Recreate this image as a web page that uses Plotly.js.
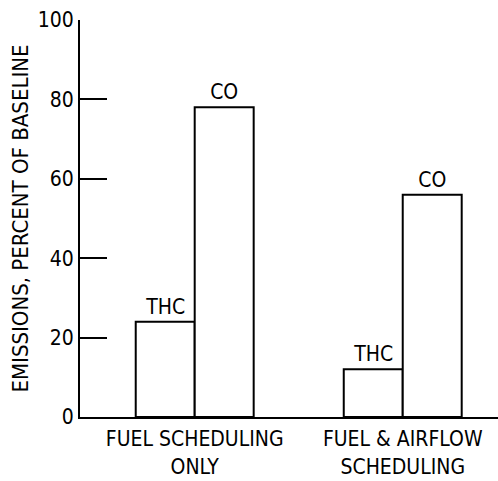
<!DOCTYPE html>
<html>
<head>
<meta charset="utf-8">
<script src="https://cdn.plot.ly/plotly-3.0.1.min.js"></script>
<style>html,body{margin:0;padding:0;background:#fff;}#chart{width:498px;height:481px;}</style>
</head>
<body>
<div id="chart"></div>
<script>
const categories = ["FUEL SCHEDULING<br>ONLY", "FUEL &amp; AIRFLOW<br>SCHEDULING"];
const thcValues = [24, 12];
const coValues = [78, 56];
const yTickValues = [0, 20, 40, 60, 80, 100];
const yTitle = "EMISSIONS, PERCENT OF BASELINE";

const FONT = "Liberation Sans Narrow, DejaVu Sans Condensed, Arial Narrow, sans-serif";

function barTrace(name, values) {
  return {
    type: "bar",
    name: name,
    x: categories,
    y: values,
    text: values.map(() => name),
    texttemplate: "%{text}",
    textposition: "outside",
    cliponaxis: false,
    textfont: {family: FONT, size: 21, color: "#000"},
    marker: {color: "rgba(255,255,255,1)", line: {color: "#000", width: 2}},
    hoverinfo: "skip"
  };
}

const data = [barTrace("THC", thcValues), barTrace("CO", coValues)];

const layout = {
  width: 498,
  height: 481,
  margin: {l: 80, r: 0, t: 20, b: 64},
  paper_bgcolor: "#fff",
  plot_bgcolor: "#fff",
  showlegend: false,
  barmode: "group",
  bargap: 0.433,
  bargroupgap: 0,
  font: {family: FONT, size: 21, color: "#000"},
  xaxis: {
    type: "category",
    range: [-0.5514, 1.458],
    showline: true,
    linecolor: "#000",
    linewidth: 2,
    ticks: "",
    showgrid: false,
    zeroline: false,
    tickfont: {family: FONT, size: 21, color: "#000"},
    ticklabelstandoff: 2
  },
  yaxis: {
    range: [0, 100],
    tickvals: yTickValues,
    ticktext: yTickValues.map(String),
    showline: true,
    linecolor: "#000",
    linewidth: 2,
    ticks: "inside",
    ticklen: 27,
    tickwidth: 2,
    tickcolor: "#000",
    showgrid: false,
    zeroline: false,
    tickfont: {family: FONT, size: 21, color: "#000"},
    title: {text: yTitle, font: {family: FONT, size: 22, color: "#000"}, standoff: 3}
  }
};

Plotly.newPlot("chart", data, layout, {staticPlot: true, displayModeBar: false});
</script>
</body>
</html>
